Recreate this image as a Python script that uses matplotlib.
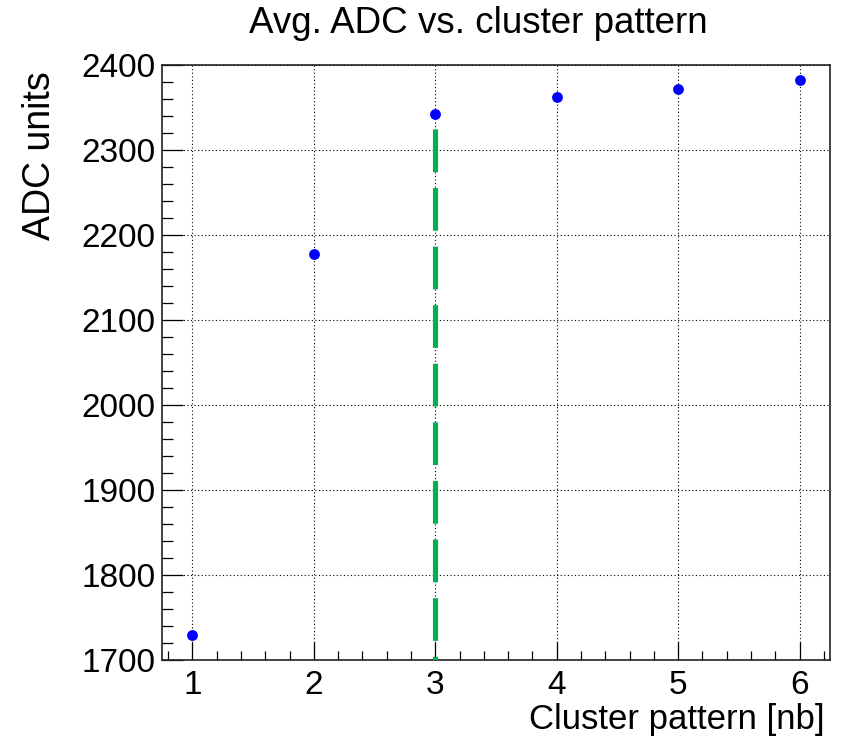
import matplotlib
matplotlib.use('Agg')
import matplotlib.pyplot as plt
from matplotlib.ticker import MultipleLocator

plt.rcParams['font.family'] = ['Liberation Sans', 'DejaVu Sans']

# data
patterns = [1, 2, 3, 4, 5, 6]
adc_mean = [1729, 2178, 2342, 2362, 2371, 2382]
cut_x = 3
cut_top = 2325

fig = plt.figure(figsize=(8.53, 7.39), dpi=100)
ax = fig.add_axes([0.190, 0.1069, 0.783, 0.8055])

ax.set_xlim(0.75, 6.25)
ax.set_ylim(1700, 2400)

ax.grid(True, color='black', linestyle=(0, (1, 2.2)), linewidth=0.8)
ax.set_axisbelow(True)

ax.plot([cut_x, cut_x], [cut_top, 1700], color='#00b050', linewidth=3.7,
        dashes=(8.3, 3.1), solid_capstyle='butt', dash_capstyle='butt', zorder=3)
ax.plot(patterns, adc_mean, 'o', color='#0000ff', markersize=7.8,
        markeredgewidth=0, zorder=4, clip_on=False)

ax.xaxis.set_major_locator(MultipleLocator(1))
ax.xaxis.set_minor_locator(MultipleLocator(0.2))
ax.yaxis.set_major_locator(MultipleLocator(100))
ax.yaxis.set_minor_locator(MultipleLocator(20))

ax.tick_params(axis='x', which='major', direction='in', length=13, width=0.9,
               labelsize=24, pad=7, top=False)
ax.tick_params(axis='x', which='minor', direction='in', length=6.5, width=0.9, top=False)
ax.tick_params(axis='y', which='major', direction='in', length=15, width=0.9,
               labelsize=24, pad=5, right=False)
ax.tick_params(axis='y', which='minor', direction='in', length=8, width=0.9, right=False)

for s in ax.spines.values():
    s.set_linewidth(1.2)
    s.set_color('#222222')

fig.text(478 / 853, 1 - 33 / 739, 'Avg. ADC vs. cluster pattern', fontsize=26.5,
         ha='center', va='baseline')
fig.text(825 / 853, 1 - 729.5 / 739, 'Cluster pattern [nb]', fontsize=25,
         ha='right', va='baseline')
fig.text(40.5 / 853, 1 - 71.5 / 739, 'ADC units', fontsize=27, rotation=90,
         ha='center', va='top')

fig.savefig('out.png', dpi=100)
